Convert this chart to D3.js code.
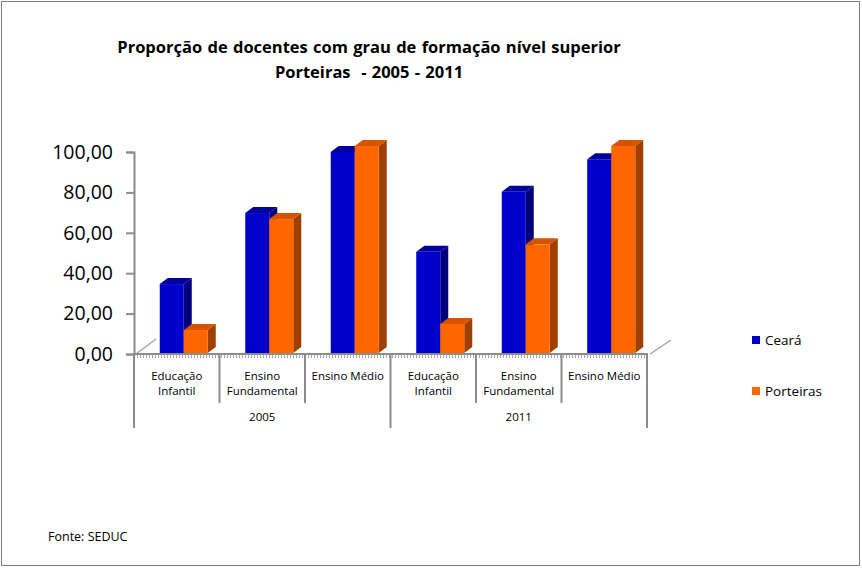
<!DOCTYPE html>
<html>
<head>
<meta charset="utf-8">
<script src="https://cdn.jsdelivr.net/npm/d3@7"></script>
<style>
  body { margin: 0; background: #fff; }
  text { font-family: "Open Sans", "Noto Sans", sans-serif; fill: #000; }
</style>
</head>
<body>
<div class="container"></div>
<script>
let years = ["2005", "2011"];
let levels = [["Educação", "Infantil"], ["Ensino", "Fundamental"], ["Ensino Médio"]];
let ceara = [33.3, 67.6, 97.1, 48.9, 77.9, 93.6];
let porteiras = [11.1, 64.7, 100, 14.0, 52.5, 100];
let yTicks = [0, 20, 40, 60, 80, 100];
let seriesNames = ["Ceará", "Porteiras"];

let width = 862, height = 568;
let dx = 8, dy = 6; // depth of the 3d columns

let svg = d3.select(".container").append("svg")
    .attr("width", width)
    .attr("height", height);

// outer border
svg.append("rect")
    .attr("x", 1.5).attr("y", 1.5)
    .attr("width", width - 4).attr("height", height - 4)
    .style("fill", "none").style("stroke", "#7f7f7f").style("stroke-width", 1);

svg.append("text")
    .text("Proporção de docentes com grau de formação nível superior")
    .attr("x", 369).attr("y", 53)
    .attr("text-anchor", "middle")
    .style("font-size", "16.5px").style("font-weight", "bold")
    .style("word-spacing", "1px");
svg.append("text")
    .text("Porteiras  - 2005 - 2011")
    .attr("x", 369).attr("y", 78)
    .attr("text-anchor", "middle")
    .style("font-size", "16.5px").style("font-weight", "bold")
    .style("white-space", "pre").style("word-spacing", "1px");

let cats = d3.range(6);
let x = d3.scaleBand().domain(cats).range([134, 647]);
let y = d3.scaleLinear().domain([0, 100]).range([354, 152]);
// front faces sit nearer the viewer, so they come out a bit taller
let yFront = d3.scaleLinear().domain([0, 100]).range([353, 146]);

// y axis
let yAxis = svg.append("g")
    .attr("transform", "translate(134,0)")
    .call(d3.axisLeft(y).tickValues(yTicks).tickSize(8).tickPadding(13)
      .tickFormat(d => d3.format(".2f")(d).replace(".", ",")));
yAxis.select(".domain").style("stroke", "#8c8c8c").style("stroke-width", 2);
yAxis.selectAll(".tick line").style("stroke", "#8c8c8c").style("stroke-width", 2);
yAxis.selectAll(".tick text").style("font-size", "19.5px");

// floor edges
svg.append("line").attr("x1", 136).attr("y1", 354).attr("x2", 156).attr("y2", 339)
    .style("stroke", "#a6a6a6").style("stroke-width", 1.5);
svg.append("line").attr("x1", 650).attr("y1", 354).attr("x2", 671).attr("y2", 340)
    .style("stroke", "#a6a6a6").style("stroke-width", 1.5);

// bars
let bw = 24;
let series = [
  {name: seriesNames[0], values: ceara, front: "#0000cc", top: "#00009a", side: "#00007a"},
  {name: seriesNames[1], values: porteiras, front: "#ff6600", top: "#d45400", side: "#a04000"}
];
let bars = svg.append("g");
cats.forEach(c => {
  let cx = x(c) + x.bandwidth() / 2 + 7;
  series.forEach((s, si) => {
    let x0 = cx - bw + si * bw, x1 = x0 + bw;
    let t = yFront(s.values[c]), b = yFront(0);
    let g = bars.append("g");
    g.append("path")
      .attr("d", `M${x1},${t}L${x1 + dx},${t - dy}L${x1 + dx},${b - dy}L${x1},${b}Z`)
      .style("fill", s.side);
    g.append("path")
      .attr("d", `M${x0},${t}L${x0 + dx},${t - dy}L${x1 + dx},${t - dy}L${x1},${t}Z`)
      .style("fill", s.top);
    g.append("rect")
      .attr("x", x0).attr("y", t)
      .attr("width", bw).attr("height", b - t)
      .style("fill", s.front);
  });
});

// category axis
let axisG = svg.append("g");
axisG.append("line").attr("x1", 133).attr("x2", 648).attr("y1", 354).attr("y2", 354)
    .style("stroke", "#8c8c8c").style("stroke-width", 2);
axisG.append("line").attr("x1", 134).attr("x2", 647).attr("y1", 356.5).attr("y2", 356.5)
    .style("stroke", "#a6a6a6").style("stroke-width", 3).style("stroke-dasharray", "1,2");
cats.concat([6]).forEach(c => {
  let xx = c < 6 ? x(c) : x.range()[1];
  let outer = c % 3 == 0;
  axisG.append("line")
    .attr("x1", xx).attr("x2", xx)
    .attr("y1", 354).attr("y2", outer ? 428 : 403)
    .style("stroke", "#8c8c8c").style("stroke-width", 2);
});
cats.forEach(c => {
  let lines = levels[c % 3];
  let t = axisG.append("text")
    .attr("text-anchor", "middle")
    .attr("x", x(c) + x.bandwidth() / 2)
    .attr("y", 380)
    .style("font-size", "11.5px");
  lines.forEach((l, i) => {
    t.append("tspan").text(l)
      .attr("x", x(c) + x.bandwidth() / 2)
      .attr("dy", i == 0 ? 0 : 15);
  });
});
years.forEach((yr, i) => {
  axisG.append("text").text(yr)
    .attr("text-anchor", "middle")
    .attr("x", (x(i * 3) + x.range()[1] * i + x(3) * (1 - i)) / 2)
    .attr("y", 421)
    .style("font-size", "11.5px");
});

// legend
let legend = svg.append("g");
series.forEach((s, i) => {
  legend.append("rect")
    .attr("x", 752).attr("y", 336 + i * 51)
    .attr("width", 8).attr("height", 8)
    .style("fill", s.front);
  legend.append("text").text(s.name)
    .attr("x", 765).attr("y", 345 + i * 51)
    .style("font-size", "13.5px");
});

svg.append("text").text("Fonte: SEDUC")
    .attr("x", 48).attr("y", 541)
    .style("font-size", "12.5px");
</script>
</body>
</html>
